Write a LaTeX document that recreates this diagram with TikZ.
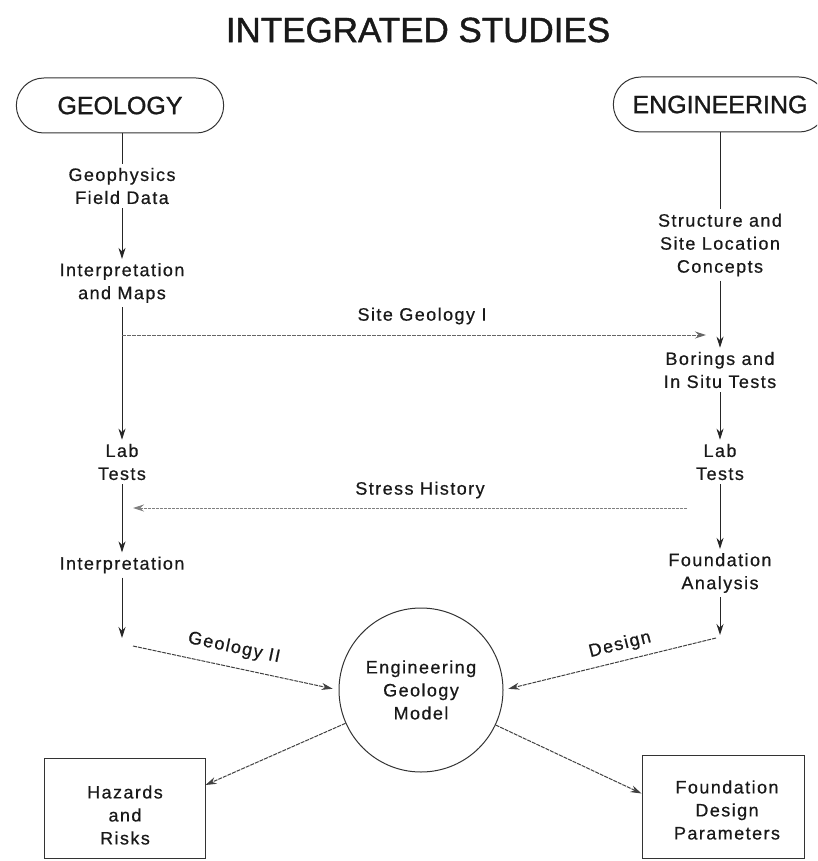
\documentclass[tikz,border=0pt]{standalone}
\usepackage{fontspec}
\setmainfont{Liberation Sans}
\newfontfamily\bodyfont[LetterSpace=8,FakeBold=0.6]{Liberation Sans}
\newfontfamily\headfont[FakeBold=1.2]{Liberation Sans}
\usetikzlibrary{arrows.meta,shapes.misc}
\begin{document}
\begin{tikzpicture}[x=1pt,y=-1pt,
  txt/.style={font=\bodyfont\fontsize{18}{23}\selectfont, align=center, inner sep=4pt, text=black!90},
  flow/.style={draw=black!85, line width=1pt, -{Stealth[length=11pt,width=7pt]}},
  plain/.style={draw=black!85, line width=1pt},
  link/.style={draw=black!75, line width=1pt, dash pattern=on 4pt off 1pt, -{Stealth[length=11pt,width=7pt]}},
  faint/.style={draw=black!50, line width=1pt, dash pattern=on 3pt off 1pt, -{Stealth[length=11pt,width=7pt]}},
  capbox/.style={draw=black!80, line width=1pt, rounded rectangle, minimum height=55pt, font=\headfont\fontsize{25}{28}\selectfont, text=black!90},
  outbox/.style={draw=black!80, line width=1pt, rectangle},
]
\useasboundingbox (0,0) rectangle (817,861);
\clip (0,0) rectangle (817,861);

\node[font=\headfont\fontsize{35}{38}\selectfont, text=black!90] (title) at (418,30) {INTEGRATED STUDIES};

\node[capbox, minimum width=214pt] (geo) at (120,105.5) {GEOLOGY};
\node[capbox, minimum width=220pt, text width=200pt, align=center] (eng) at (720,104.5) {ENGINEERING};

% left column
\node[txt] (gf) at (122,186) {Geophysics\\Field Data};
\node[txt] (im) at (122,283) {Interpretation\\and Maps};
\node[txt] (glab) at (122,462) {Lab\\Tests};
\node[txt] (gint) at (122,565) {Interpretation};

% right column
\node[txt] (st) at (720,245) {Structure and\\Site Location\\Concepts};
\node[txt] (bor) at (720,370) {Borings and\\In Situ Tests};
\node[txt] (elab) at (720,462) {Lab\\Tests};
\node[txt] (fa) at (720,573) {Foundation\\Analysis};

% model
\node[draw=black!80, line width=1pt, circle, minimum size=164pt, txt] (model) at (421,690) {Engineering\\Geology\\Model};

% output boxes
\node[outbox, minimum width=161pt, minimum height=100pt] (hazbox) at (124.5,808) {};
\node[txt] (haz) at (125,815) {Hazards\\and\\Risks};
\node[outbox, minimum width=162pt, minimum height=103pt] (fdpbox) at (723,806.5) {};
\node[txt] (fdp) at (727,810) {Foundation\\Design\\Parameters};

% junction coordinates
\coordinate (j1) at (122,335);
\coordinate (sg) at (706,335);
\coordinate (s1) at (687,508);
\coordinate (s2) at (133,508);
\coordinate (g1) at (122,638);
\coordinate (g2) at (133,646);
\coordinate (d1) at (720,635);
\coordinate (d2) at (716,638);

% left column connectors
\draw[plain] (geo.south -| gf.north) -- (gf.north);
\draw[flow] (gf) -- (im);
\draw[flow] (im) -- (glab);
\draw[flow] (glab) -- (gint);
\draw[flow] (gint) -- (g1);

% right column connectors
\draw[plain] (eng.south) -- (st.north);
\draw[flow] (st) -- (bor);
\draw[flow] (bor) -- (elab);
\draw[flow] (elab) -- (fa);
\draw[flow] (fa) -- (d1);

% cross links
\draw[link, draw=black!60] (j1) -- (sg);
\node[txt] (sgl) at (422,316) {Site Geology I};
\draw[faint] (s1) -- (s2);
\node[txt] (shl) at (420,490) {Stress History};

\draw[link, shorten >=6pt] (g2) -- (model.180);
\node[txt, rotate=-12] (g2l) at (234,648) {Geology II};
\draw[link, shorten >=5pt] (d2) -- (model.0);
\node[txt, rotate=14] (d2l) at (620,645) {Design};

\draw[link] (model) -- ([yshift=23pt]hazbox.east);
\draw[link] (model) -- ([yshift=13pt]fdpbox.west);
\end{tikzpicture}
\end{document}
